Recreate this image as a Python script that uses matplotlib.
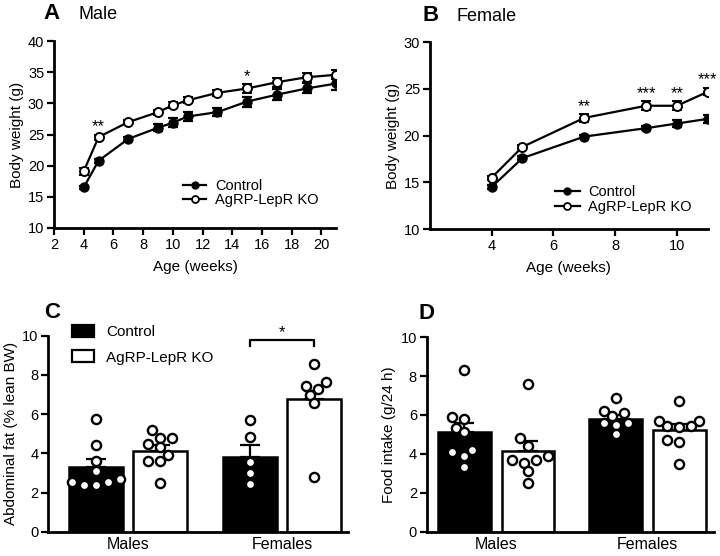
import numpy as np
import matplotlib
matplotlib.use("Agg")
from matplotlib import pyplot
from matplotlib.patches import Patch
from matplotlib.lines import Line2D

pyplot.rcParams["font.family"] = ["Liberation Sans", "DejaVu Sans"]
pyplot.rcParams["font.size"] = 11

# ---- panel A: male body weight ----
male_weeks = [4, 5, 7, 9, 10, 11, 13, 15, 17, 19, 21]
male_ctrl = [16.5, 20.8, 24.3, 26.1, 26.9, 27.9, 28.6, 30.3, 31.4, 32.4, 33.2]
male_ctrl_sem = [0.3, 0.3, 0.3, 0.6, 0.7, 0.8, 0.7, 0.8, 0.9, 0.8, 1.0]
male_ko = [19.1, 24.6, 27.0, 28.6, 29.7, 30.5, 31.7, 32.4, 33.4, 34.2, 34.6]
male_ko_sem = [0.6, 0.4, 0.3, 0.4, 0.5, 0.5, 0.5, 0.7, 0.7, 0.7, 0.7]
male_stars = {5: "**", 15: "*"}

# ---- panel B: female body weight ----
female_weeks = [4, 5, 7, 9, 10, 11]
female_ctrl = [14.5, 17.6, 19.9, 20.8, 21.3, 21.8]
female_ctrl_sem = [0.2, 0.2, 0.2, 0.2, 0.4, 0.4]
female_ko = [15.5, 18.8, 21.9, 23.2, 23.2, 24.7]
female_ko_sem = [0.2, 0.2, 0.4, 0.5, 0.5, 0.4]
female_stars = {7: "**", 9: "***", 10: "**", 11: "***"}

# ---- panel C: abdominal fat ----
groups = ["Males", "Females"]
fat_ctrl_m = [5.75, 4.4, 3.6, 3.1, 2.7, 2.55, 2.4, 2.4, 2.55]
fat_ko_m = [5.2, 4.8, 4.8, 4.5, 4.3, 3.9, 3.6, 3.6, 2.5]
fat_ctrl_f = [5.7, 4.85, 3.55, 3.0, 2.45]
fat_ko_f = [8.55, 7.65, 7.3, 7.45, 7.0, 6.55, 2.8]
fat_means = [[3.3, 3.8], [4.1, 6.75]]      # [control, ko] x [males, females]
fat_sem = [[0.4, 0.6], [0.3, 0.45]]

# ---- panel D: food intake ----
food_ctrl_m = [8.3, 5.9, 5.8, 5.35, 5.1, 4.2, 4.1, 3.9, 3.3]
food_ko_m = [7.6, 4.8, 4.4, 3.9, 3.7, 3.7, 3.55, 3.1, 2.5]
food_ctrl_f = [6.85, 6.1, 5.95, 6.2, 5.6, 5.5, 5.6, 5.0]
food_ko_f = [6.7, 5.7, 5.45, 5.4, 5.45, 5.7, 4.7, 4.6, 3.5]
food_means = [[5.1, 5.8], [4.15, 5.25]]
food_sem = [[0.5, 0.2], [0.5, 0.3]]

labels = ["Control", "AgRP-LepR KO"]
LW = 1.6

fig = pyplot.figure(figsize=(7.2, 5.56), dpi=100)


def px(x, y):
    # figure pixel (from top-left) -> figure fraction
    return (x / 720, 1 - y / 556)


def style_axes(ax):
    for side in ("top", "right"):
        ax.spines[side].set_visible(False)
    for side in ("left", "bottom"):
        ax.spines[side].set_linewidth(LW + 0.4)
    ax.tick_params(width=LW, length=5, labelsize=10.5, pad=2)


def line_panel(ax, weeks, ctrl, ctrl_sem, ko, ko_sem, stars):
    ax.errorbar(weeks, ctrl, yerr=ctrl_sem, color="black", lw=LW, capsize=3.5,
                capthick=LW, elinewidth=LW, marker="o", ms=6.5,
                mfc="black", mec="black", zorder=3)
    ax.errorbar(weeks, ko, yerr=ko_sem, color="black", lw=LW, capsize=3.5,
                capthick=LW, elinewidth=LW, marker="o", ms=6.5,
                mfc="white", mec="black", mew=1.4, zorder=4)
    for wk, s in stars.items():
        i = weeks.index(wk)
        ax.annotate(s, (wk, ko[i] + ko_sem[i]), xytext=(0, 2.5),
                    textcoords="offset points", ha="center", va="baseline",
                    fontsize=12)
    style_axes(ax)
    ax.set_xlabel("Age (weeks)", fontsize=11, labelpad=6)
    ax.set_ylabel("Body weight (g)", fontsize=11, labelpad=3)
    handles = [Line2D([], [], color="black", lw=LW, marker="o", ms=5, mfc="black"),
               Line2D([], [], color="black", lw=LW, marker="o", ms=5, mfc="white",
                      mew=1.3)]
    return handles


def swarm(ax, center, values, size_px=8.0):
    # simple beeswarm: place points as close to the centre as possible
    to_px = ax.transData.transform
    placed = []
    order = np.argsort(values)
    out = [None] * len(values)
    min_d = size_px * 1.12
    for k in order:
        px0, py = to_px((center, values[k]))
        best = None
        for step in range(0, 14):
            for sign in ((1,) if step == 0 else (-1, 1)):
                cand = px0 + sign * step * size_px * 0.5
                if all((cand - qx) ** 2 + (py - qy) ** 2 >= min_d ** 2
                       for qx, qy in placed):
                    best = cand
                    break
            if best is not None:
                break
        placed.append((best, py))
        out[k] = ax.transData.inverted().transform((best, py))[0]
    ax.plot(out, values, "o", ms=6.6, mfc="white", mec="black", mew=1.7,
            zorder=5, linestyle="none")


def bar_panel(ax, means, sem, dots, ylabel, xlim):
    pos = np.arange(len(groups))
    off = 0.21
    w = 0.35
    ax.set_xlim(*xlim)
    ax.set_ylim(0, 10)
    for j, (fc, dx) in enumerate((("black", -off), ("white", off))):
        ax.bar(pos + dx, means[j], width=w, color=fc, edgecolor="black",
               lw=LW + 0.2, zorder=2)
        ax.errorbar(pos + dx, means[j], yerr=[np.zeros(len(pos)), sem[j]],
                    fmt="none", ecolor="black", elinewidth=LW, capsize=7,
                    capthick=LW, zorder=3)
    for (gi, j), vals in dots.items():
        dx = -off if j == 0 else off
        swarm(ax, pos[gi] + dx, vals)
    style_axes(ax)
    ax.set_xticks(pos, groups)
    ax.tick_params(axis="x", length=0, labelsize=11.5, pad=3.5)
    ax.set_yticks([0, 2, 4, 6, 8, 10])
    ax.set_ylabel(ylabel, fontsize=11, labelpad=3)


# A
axA = fig.add_axes([0.075, 0.590, 0.392, 0.336])
axA.set_xlim(2, 21)
axA.set_ylim(10, 40)
hA = line_panel(axA, male_weeks, male_ctrl, male_ctrl_sem, male_ko, male_ko_sem,
                male_stars)
axA.set_xticks(range(2, 21, 2))
axA.set_yticks(range(10, 41, 5))
axA.legend(hA, labels, loc="upper left", bbox_to_anchor=px(183, 179),
           bbox_transform=fig.transFigure, frameon=False, fontsize=10.5,
           handlelength=1.58, handletextpad=0.62, labelspacing=0.0, borderpad=0,
           borderaxespad=0)

# B
axB = fig.add_axes([0.597, 0.588, 0.386, 0.336])
axB.set_xlim(2, 11)
axB.set_ylim(10, 30)
hB = line_panel(axB, female_weeks, female_ctrl, female_ctrl_sem, female_ko,
                female_ko_sem, female_stars)
axB.set_xticks([4, 6, 8, 10])
axB.set_yticks([10, 15, 20, 25, 30])
axB.legend(hB, labels, loc="upper left", bbox_to_anchor=px(555, 185),
           bbox_transform=fig.transFigure, frameon=False, fontsize=10.5,
           handlelength=1.7, handletextpad=0.55, labelspacing=0.08, borderpad=0,
           borderaxespad=0)

# C
axC = fig.add_axes([0.0667, 0.0437, 0.417, 0.3525])
bar_panel(axC, fat_means, fat_sem,
          {(0, 0): fat_ctrl_m, (0, 1): fat_ko_m, (1, 0): fat_ctrl_f, (1, 1): fat_ko_f},
          "Abdominal fat (% lean BW)", (-0.52, 1.43))
bx = [1 - 0.21, 1 + 0.21]
axC.plot([bx[0], bx[0], bx[1], bx[1]], [9.5, 9.78, 9.78, 9.5], color="black",
         lw=LW, clip_on=False)
axC.text(1.0, 9.92, "*", ha="center", va="baseline", fontsize=12)
axC.legend(handles=[Patch(fc="black", ec="black", lw=LW),
                    Patch(fc="white", ec="black", lw=LW)],
           labels=labels, loc="upper left", bbox_to_anchor=px(72, 325),
           bbox_transform=fig.transFigure, frameon=False, fontsize=11,
           handlelength=1.45, handleheight=0.85, handletextpad=0.78,
           labelspacing=0.71, borderpad=0, borderaxespad=0)

# D
axD = fig.add_axes([0.5926, 0.0437, 0.399, 0.35])
bar_panel(axD, food_means, food_sem,
          {(0, 0): food_ctrl_m, (0, 1): food_ko_m, (1, 0): food_ctrl_f, (1, 1): food_ko_f},
          "Food intake (g/24 h)", (-0.46, 1.44))

# panel letters and titles
fig.text(*px(43, 19), "A", fontsize=16, fontweight="bold")
fig.text(*px(78, 19), "Male", fontsize=13)
fig.text(*px(423, 21), "B", fontsize=16, fontweight="bold")
fig.text(*px(457, 21), "Female", fontsize=13)
fig.text(*px(44, 318), "C", fontsize=16, fontweight="bold")
fig.text(*px(418, 319), "D", fontsize=16, fontweight="bold")

fig.savefig("out.png", dpi=100)
